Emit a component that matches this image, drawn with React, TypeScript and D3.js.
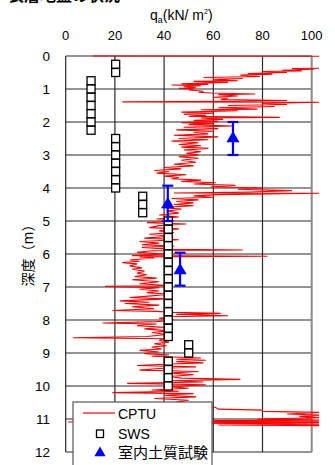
import React from "react";
import * as d3 from "d3";

const xTicks = [0, 20, 40, 60, 80, 100];
const yTicks = [0, 1, 2, 3, 4, 5, 6, 7, 8, 9, 10, 11, 12];

// CPTU trace: depth (m) and qa (kN/m2)
const cptuDepth = [
  0.0, 0.01, 0.2, 0.37, 0.38, 0.4, 0.43, 0.45, 0.47, 0.5, 0.53, 0.55, 0.58, 0.62, 0.65, 0.68, 0.72, 0.75, 0.77, 0.8, 0.84, 0.86, 0.88, 0.9, 0.93, 0.96, 0.98, 1.0,
  1.03, 1.07, 1.1, 1.12, 1.15, 1.17, 1.21, 1.25, 1.28, 1.32, 1.35, 1.37, 1.39, 1.4, 1.44, 1.47, 1.5, 1.53, 1.57, 1.61, 1.63, 1.66, 1.7, 1.73, 1.76, 1.8, 1.83, 1.86, 1.88, 1.92, 1.95, 1.98,
  2.02, 2.05, 2.08, 2.12, 2.16, 2.2, 2.24, 2.28, 2.32, 2.36, 2.4, 2.45, 2.5, 2.54, 2.58, 2.63, 2.68, 2.72, 2.76, 2.8, 2.85, 2.9, 2.95,
  3.0, 3.05, 3.1, 3.16, 3.22, 3.28, 3.33, 3.38, 3.42, 3.47, 3.5, 3.55, 3.6, 3.64, 3.68, 3.72, 3.76, 3.8, 3.84, 3.88, 3.92, 3.96, 4.0, 4.04, 4.08, 4.12, 4.15, 4.16,
  4.2, 4.24, 4.28, 4.32, 4.36, 4.41, 4.45, 4.5, 4.54, 4.59, 4.64, 4.7, 4.76, 4.82, 4.88, 4.94, 5.0, 5.05, 5.09, 5.14, 5.2, 5.24, 5.3, 5.35, 5.4, 5.46, 5.52, 5.57, 5.62, 5.67, 5.72, 5.76, 5.8, 5.86, 5.88, 5.9, 5.95, 6.0, 6.05, 6.07, 6.09,
  6.12, 6.18, 6.22, 6.26, 6.3, 6.36, 6.42, 6.46, 6.52, 6.58, 6.63, 6.68, 6.73, 6.78, 6.84, 6.9, 6.96, 6.98, 7.02, 7.07, 7.12, 7.17, 7.22, 7.27, 7.32, 7.36, 7.42, 7.46, 7.5, 7.55, 7.6, 7.66, 7.71, 7.74, 7.77, 7.8, 7.83, 7.87, 7.9, 7.95, 8.0,
  8.05, 8.09, 8.12, 8.17, 8.22, 8.27, 8.33, 8.38, 8.44, 8.5, 8.54, 8.57, 8.62, 8.67, 8.72, 8.78, 8.82, 8.88, 8.92, 8.97, 9.02, 9.06, 9.1, 9.15, 9.19, 9.22,
  9.26, 9.3, 9.34, 9.38, 9.42, 9.47, 9.52, 9.56, 9.61, 9.66, 9.71, 9.76, 9.8, 9.84, 9.88, 9.92, 9.96, 10.02, 10.07, 10.12, 10.16, 10.2, 10.23, 10.28, 10.33, 10.38, 10.43, 10.48, 10.53, 10.58, 10.62, 10.65, 10.7, 10.73, 10.77, 10.8, 10.85, 10.88, 10.92, 10.96, 11.0, 11.03, 11.05, 11.07, 11.09, 11.11, 11.13, 11.16, 11.18, 11.2,
];
const cptuQa = [
  11, 105, 110, 104, 92, 101, 88, 96, 80, 90, 74, 84, 71, 79, 56, 72, 60, 70, 52, 66, 47, 58, 43, 55, 48, 53, 46, 52,
  50, 56, 54, 59, 77, 62, 70, 60, 66, 63, 90, 68, 23, 104, 80, 90, 66, 85, 62, 78, 55, 70, 47, 60, 48, 57, 50, 87, 55, 64, 52, 62,
  47, 60, 50, 68, 48, 62, 45, 60, 52, 58, 44, 62, 46, 58, 43, 54, 46, 55, 47, 58, 48, 55, 49,
  54, 46, 54, 47, 53, 44, 52, 40, 47, 36, 42, 37, 49, 40, 46, 43, 55, 47, 61, 52, 69, 59, 80, 70, 92, 75, 44, 104,
  62, 52, 60, 43, 54, 45, 52, 44, 52, 39, 47, 41, 46, 38, 46, 37, 44, 33, 49, 38, 34, 46, 38, 44, 34, 43, 32, 46, 30, 38, 31, 44, 31, 44, 72, 35, 29, 40, 27, 82, 30,
  36, 26, 30, 23, 29, 26, 31, 27, 32, 29, 33, 28, 37, 27, 38, 30, 43, 16, 38, 30, 38, 33, 42, 35, 26, 41, 22, 34, 24, 38, 27, 36, 19, 37, 44, 63, 45, 66, 42, 38, 44,
  37, 15, 37, 29, 40, 32, 42, 35, 41, 33, 3, 40, 38, 42, 36, 41, 35, 39, 30, 38, 32, 42, 35, 55, 45, 57,
  45, 56, 40, 29, 53, 38, 30, 54, 42, 52, 42, 47, 71, 43, 56, 25, 57, 42, 50, 35, 46, 19, 52, 40, 53, 36, 50, 45, 53, 48, 58, 61, 62, 80, 80, 104, 90, 104, 95, 104, 78, 104, 60, 104, 1, 104, 55, 104, 62, 104,
];

// SWS points
const swsDepth = [
  0.25, 0.5,
  0.75, 1.0, 1.25, 1.5, 1.75, 2.0, 2.25,
  2.5, 2.75, 3.0, 3.25, 3.5, 3.75, 4.0,
  4.25, 4.5, 4.75,
  5.0, 5.25, 5.5, 5.75, 6.0, 6.25, 6.5, 6.75, 7.0, 7.25, 7.5, 7.75, 8.0, 8.25, 8.5,
  8.75, 9.0,
  9.25, 9.5, 9.75, 10.0,
];
const swsQa = [
  20.3, 20.3,
  10.3, 10.3, 10.3, 10.3, 10.3, 10.3, 10.3,
  20.3, 20.3, 20.3, 20.3, 20.3, 20.3, 20.3,
  31.3, 31.3, 31.3,
  41.7, 41.7, 41.7, 41.7, 41.7, 41.7, 41.7, 41.7, 41.7, 41.7, 41.7, 41.7, 41.7, 41.7, 41.7,
  50, 50,
  41.7, 41.7, 41.7, 41.7,
];

// Laboratory tests
const labDepth = [2.5, 4.5, 6.5];
const labQa = [68, 41.5, 46.5];
const labLo = [2.0, 3.93, 5.96];
const labHi = [3.0, 5.0, 6.96];

const W = 335;
const H = 465;
const x = d3.scaleLinear().domain([0, 100]).range([65.7, 311.7]);
const y = d3.scaleLinear().domain([0, 12]).range([56, 452]);

const numFont = "'Liberation Sans', Arial, sans-serif";
const cjkFont = "'Noto Sans CJK JP', 'Liberation Sans', sans-serif";

export default function App() {
  const pts: [number, number][] = cptuDepth.map((d, i) => [cptuQa[i], d]);
  const line = d3
    .line<[number, number]>()
    .x((p) => x(p[0]))
    .y((p) => y(p[1]));
  const tri = d3.symbol().type(d3.symbolTriangle).size(75)();
  const triLeg = d3.symbol().type(d3.symbolTriangle).size(55)();
  const sq = 8;

  return (
    <svg
      width={W}
      height={H}
      style={{ position: "absolute", left: 0, top: 0, background: "#fff" }}
    >
      <defs>
        <clipPath id="plotclip">
          <rect x={x(0)} y={30} width={x(103) - x(0)} height={430} />
        </clipPath>
      </defs>
      <rect width={W} height={H} fill="#fff" />
      {/* title, cut off at the top edge as in the original */}
      <text x={8} y={1} fontFamily={cjkFont} fontWeight="bold" fontSize={16} fill="#000">
        表層地盤の状況
      </text>
      {/* axis title */}
      <text x={150} y={20} fontFamily={numFont} fontSize={14} fill="#000">
        q
        <tspan fontSize={9} dy={3}>a</tspan>
        <tspan dy={-3}>(kN/ m</tspan>
        <tspan fontSize={7} dy={-6}>2</tspan>
        <tspan dy={6}>)</tspan>
      </text>
      {/* x tick labels */}
      {xTicks.map((t) => (
        <text key={"xt" + t} x={x(t)} y={40} textAnchor="middle" fontFamily={numFont} fontSize={13} fill="#000">
          {t}
        </text>
      ))}
      {/* y tick labels */}
      {yTicks.map((t) => (
        <text key={"yt" + t} x={50} y={y(t) + 5} textAnchor="end" fontFamily={numFont} fontSize={13.5} fill="#000">
          {t}
        </text>
      ))}
      {/* y title */}
      <text
        transform={`translate(27,252) rotate(-90)`}
        textAnchor="middle"
        dominantBaseline="central"
        fontFamily={cjkFont}
        fontSize={14}
        fill="#000"
      >
        深度（m）
      </text>
      {/* grid */}
      {yTicks.map((t) => (
        <line key={"gy" + t} x1={x(0)} x2={x(100)} y1={y(t)} y2={y(t)} stroke="#2a2a2a" strokeWidth={1.2} />
      ))}
      {xTicks.slice(0, 5).map((t) => (
        <line key={"gx" + t} x1={x(t)} x2={x(t)} y1={y(0)} y2={y(12)} stroke="#2a2a2a" strokeWidth={1.2} />
      ))}
      <line x1={x(100)} x2={x(100)} y1={y(0)} y2={y(12)} stroke="#8a8a8a" strokeWidth={2} />
      {/* CPTU */}
      <g clipPath="url(#plotclip)">
        <path d={line(pts) || ""} fill="none" stroke="#ff0000" strokeWidth={1.1} strokeLinejoin="miter" />
      </g>
      {/* SWS */}
      {swsDepth.map((d, i) => (
        <rect
          key={"s" + i}
          x={x(swsQa[i]) - sq / 2}
          y={y(d) - sq / 2}
          width={sq}
          height={sq}
          fill="#fff"
          stroke="#000"
          strokeWidth={1.3}
        />
      ))}
      {/* lab tests */}
      {labDepth.map((d, i) => (
        <g key={"l" + i} stroke="#0000ff" strokeWidth={2.2}>
          <line x1={x(labQa[i])} x2={x(labQa[i])} y1={y(labLo[i])} y2={y(labHi[i])} />
          <line x1={x(labQa[i]) - 5.5} x2={x(labQa[i]) + 5.5} y1={y(labLo[i])} y2={y(labLo[i])} />
          <line x1={x(labQa[i]) - 5.5} x2={x(labQa[i]) + 5.5} y1={y(labHi[i])} y2={y(labHi[i])} />
          <path d={tri || ""} transform={`translate(${x(labQa[i])},${y(d)})`} fill="#0000ff" stroke="none" />
        </g>
      ))}
      {/* legend */}
      <g>
        <rect x={73} y={402} width={139} height={72} fill="#fff" stroke="#555" strokeWidth={1.2} />
        <line x1={83} x2={115} y1={413} y2={413} stroke="#ff0000" strokeWidth={1.2} />
        <text x={118} y={419} fontFamily={numFont} fontSize={14} fill="#000">CPTU</text>
        <rect x={96.5} y={430} width={7} height={7.5} fill="#fff" stroke="#000" strokeWidth={1.3} />
        <text x={118} y={439} fontFamily={numFont} fontSize={14} fill="#000">SWS</text>
        <path d={triLeg || ""} transform="translate(100,453)" fill="#0000ff" />
        <text x={118} y={458} fontFamily={cjkFont} fontSize={15} fill="#000">室内土質試験</text>
      </g>
    </svg>
  );
}
